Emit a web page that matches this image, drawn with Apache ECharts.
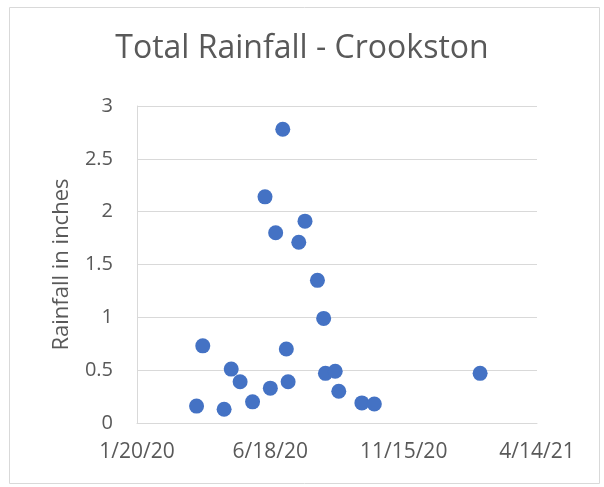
<!DOCTYPE html>
<html>
<head>
<meta charset="utf-8">
<script src="https://cdn.jsdelivr.net/npm/echarts@6/dist/echarts.min.js"></script>
<style>
	html, body { margin: 0; padding: 0; background: #fff; }
	#main { width: 604px; height: 487px; }
</style>
</head>
<body>
<div id="main"></div>
<script>
// measurement dates and rainfall (inches)
var dates = ['2020-03-27', '2020-04-03', '2020-04-27', '2020-05-05', '2020-05-15', '2020-05-29',
	'2020-06-12', '2020-06-18', '2020-06-24', '2020-07-02', '2020-07-06', '2020-07-08',
	'2020-07-20', '2020-07-27', '2020-08-10', '2020-08-17', '2020-08-19', '2020-08-30',
	'2020-09-03', '2020-09-29', '2020-10-13', '2021-02-09'];
var rain = [0.16, 0.73, 0.13, 0.51, 0.39, 0.20,
	2.14, 0.33, 1.80, 2.78, 0.70, 0.39,
	1.71, 1.91, 1.35, 0.99, 0.47, 0.49,
	0.30, 0.19, 0.18, 0.47];
var xTicks = ['1/20/20', '6/18/20', '11/15/20', '4/14/21'];
var yTicks = [0, 0.5, 1, 1.5, 2, 2.5, 3];

var base = Date.UTC(2020, 0, 20);
var DAY = 86400000;

function dayOffset(s) {
	var p = s.split('-');
	return Math.round((Date.UTC(+p[0], +p[1] - 1, +p[2]) - base) / DAY);
}

var points = [];
for (var i = 0; i < dates.length; i++) {
	points.push([dayOffset(dates[i]), rain[i]]);
}

var ec = echarts.init(document.getElementById('main'));
var txt = '#595959';
var line = '#d9d9d9';
ec.setOption({
	animation: false,
	title: {
		text: 'Total Rainfall - Crookston',
		left: 'center',
		top: 28,
		textStyle: {
			color: txt,
			fontSize: 32,
			fontWeight: 'normal',
			fontFamily: 'Open Sans'
		}
	},
	graphic: [{
		type: 'rect',
		shape: { x: 9.5, y: 7.5, width: 590, height: 476 },
		style: { fill: 'none', stroke: line, lineWidth: 1 },
		silent: true
	}],
	grid: {
		left: 137,
		right: 67,
		top: 106,
		bottom: 64
	},
	xAxis: {
		type: 'value',
		min: 0,
		max: 450,
		interval: 150,
		axisLine: { show: true, lineStyle: { color: line } },
		axisTick: { show: false },
		splitLine: { show: false },
		axisLabel: {
			margin: 19,
			color: txt,
			fontSize: 21,
			fontFamily: 'Open Sans',
			formatter: function(v) {
				return xTicks[Math.round(v / 150)];
			}
		}
	},
	yAxis: {
		type: 'value',
		min: yTicks[0],
		max: yTicks[yTicks.length - 1],
		interval: 0.5,
		name: 'Rainfall in inches',
		nameLocation: 'middle',
		nameGap: 64,
		nameTextStyle: {
			color: txt,
			fontSize: 22,
			fontFamily: 'Open Sans'
		},
		axisLine: { show: true, lineStyle: { color: line } },
		axisTick: { show: false },
		splitLine: { lineStyle: { color: line, width: 1 } },
		axisLabel: {
			margin: 24,
			color: txt,
			fontSize: 20,
			fontFamily: 'Open Sans'
		}
	},
	series: [{
		type: 'scatter',
		symbol: 'circle',
		symbolSize: 15,
		itemStyle: { color: '#4472C4', opacity: 1 },
		data: points
	}]
});
</script>
</body>
</html>
